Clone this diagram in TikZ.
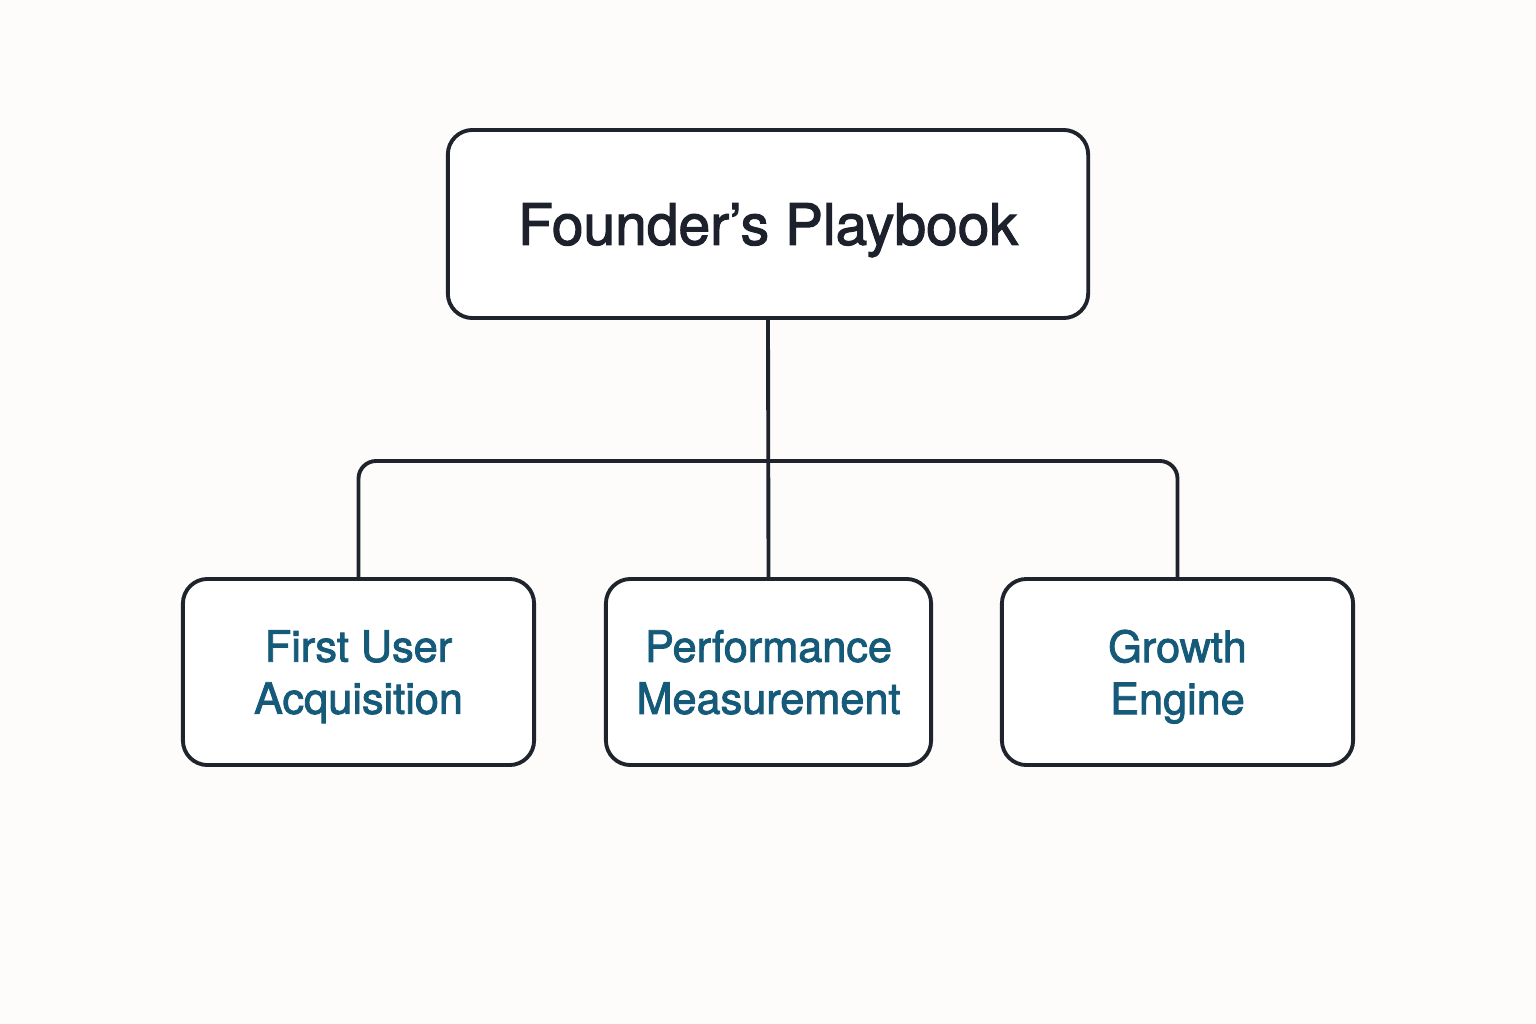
\documentclass[tikz,border=0pt]{standalone}
\usepackage{fontspec}
\setmainfont{TeX Gyre Heros}
\newfontfamily\medfont[FakeBold=2]{TeX Gyre Heros}
\definecolor{bgcol}{HTML}{FDFCFA}
\definecolor{linecol}{HTML}{1F232B}
\definecolor{titlecol}{HTML}{1C212B}
\definecolor{tealcol}{HTML}{155A79}
\tikzset{
  topbox/.style={draw=linecol,line width=1.1pt,rounded corners=7pt,fill=white,minimum width=6.4cm,minimum height=1.88cm,text=titlecol,text depth=0pt,font=\medfont\fontsize{16.2}{19}\selectfont},
  subbox/.style={draw=linecol,line width=1.1pt,rounded corners=7pt,fill=white,minimum height=1.86cm,text=tealcol,text depth=0pt,align=center,font=\medfont\fontsize{12.3}{14.8}\selectfont},
  link/.style={draw=linecol,line width=1.1pt,rounded corners=5pt}
}
\begin{document}
\begin{tikzpicture}[x=0.01cm,y=-0.01cm]
%frame
\fill[bgcol](0,0)rectangle(1536,1024);
\useasboundingbox(0,0)rectangle(1536,1024);
%boxes
\node[topbox](top)at(768,224){Founder’s Playbook};
\node[subbox,minimum width=3.51cm](acq)at(358.5,672){First User\\Acquisition};
\node[subbox,minimum width=3.25cm](perf)at(768.5,672){Performance\\Measurement};
\node[subbox,minimum width=3.51cm](eng)at(1177.5,672){Growth\\Engine};
%links
\coordinate(bar)at(768,461);
\draw[link](top.south)--(perf.north);
\draw[link](acq.north)|-(bar)-|(eng.north);
\end{tikzpicture}
\end{document}
